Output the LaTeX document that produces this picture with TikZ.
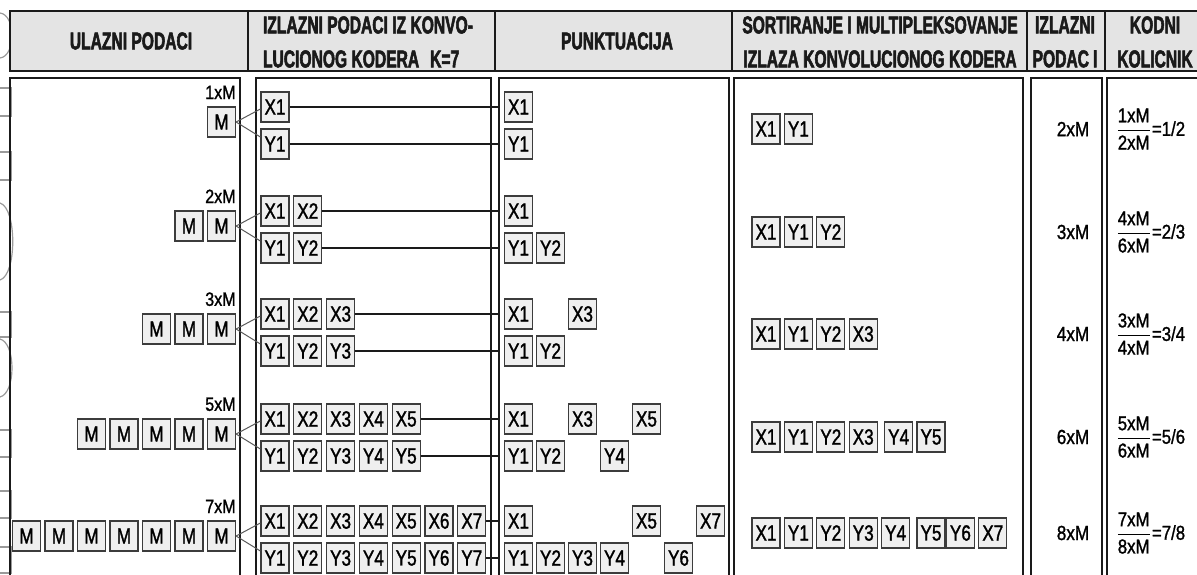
\documentclass[tikz,border=0pt]{standalone}
\usepackage{fontspec}
\usepackage{amsmath}
\usetikzlibrary{positioning,calc}
\definecolor{ink}{HTML}{1A1A1A}
\definecolor{headbg}{HTML}{E4E4E4}
\definecolor{cellbg}{HTML}{EFEFEF}
\definecolor{cellline}{HTML}{3C3C3C}
\definecolor{feedgray}{HTML}{5A5A5A}
\definecolor{scangray}{HTML}{9A9A9A}
\newfontfamily\headfont[FakeStretch=0.64,FakeBold=2.2]{Liberation Sans}
\newfontfamily\cellfont[FakeStretch=0.78,FakeBold=1.4]{Liberation Sans}
\newfontfamily\qtyfont[FakeStretch=0.84,FakeBold=1.2]{Liberation Sans}
\tikzset{
  headtext/.style={font=\headfont\bfseries\fontsize{12.2}{17}\selectfont,
                   text=ink,align=center,inner sep=0pt},
  panel/.style={draw=ink,line width=0.75pt},
  cell/.style={draw=cellline,fill=cellbg,line width=0.6pt,
               minimum width=14pt,minimum height=15pt,inner sep=0pt,
               font=\cellfont\fontsize{11}{12}\selectfont},
  qty/.style={font=\qtyfont\fontsize{9.6}{10}\selectfont,inner sep=0pt},
  total/.style={font=\qtyfont\fontsize{10.2}{11}\selectfont,inner sep=0pt},
  ratio/.style={font=\qtyfont\fontsize{10}{11}\selectfont,anchor=west,inner sep=0pt},
  feed/.style={draw=feedgray,line width=0.5pt},
  tap/.style={draw=ink,line width=0.6pt},
  scan/.style={draw=scangray,line width=0.6pt}
}

\begin{document}
\begin{tikzpicture}[x=0.5pt,y=-0.5pt]
    \useasboundingbox (0,0) rectangle (1197,574);
    \clip (0,0) rectangle (1197,574);

    % remains of the scanned page at the left edge
    \draw[scan] (0,13) .. controls (16,15) and (16,56) .. (0,58);
    \draw[scan] (0,203) .. controls (17,208) and (17,275) .. (0,280);
    \draw[scan] (0,339) .. controls (16,343) and (16,393) .. (0,397);
    \foreach \ya/\yb in {88/116,152/180,312/337,430/457,491/518,547/573}
      \draw[scan] (0,\ya) -| (11,\yb) -- (0,\yb);

    % header
    \draw[panel,fill=headbg] (10,11) rectangle (1210,71);
    \foreach \x in {248,495,732,1027,1105}
      \draw[panel] (\x,11) -- (\x,71);
    \node[headtext] (h1) at (131,41) {ULAZNI PODACI};
    \node[headtext,align=left] (h2) at (368,42)
      {IZLAZNI PODACI IZ KONVO-\\LUCIONOG KODERA\hspace{5.5pt}K=7};
    \node[headtext] (h3) at (617,41) {PUNKTUACIJA};
    \node[headtext] (h4) at (880,42)
      {SORTIRANJE I MULTIPLEKSOVANJE\\IZLAZA KONVOLUCIONOG KODERA};
    \node[headtext] (h5) at (1065,42) {IZLAZNI\\PODAC\,I};
    \node[headtext] (h6) at (1155,42) {KODNI\\KOLICNIK};

    % column panels, open at the bottom
    \foreach \xa/\xb in {10/240,256/491,499/729,734/1023,1031/1102,1107/1210}
      \draw[panel] (\xa,600) |- (\xb,78) -- (\xb,600);
    \coordinate (punkt) at (499,78);

    % input words and encoder outputs
    \foreach \row/\ym/\num in {1/122/1,2/226/2,3/329/3,4/434/5,5/536/7}{
      \foreach \k in {1,...,\num}{
        \node[cell] (m\row-\k) at ({221.5-32.5*(\num-\k)},\ym) {M};
        \node[cell] (x\row-\k) at ({275+32.8*(\k-1)},\ym-15) {X\k};
        \node[cell] (y\row-\k) at ({275+32.8*(\k-1)},\ym+22) {Y\k};
      }
      \node[qty,above=3.5pt of m\row-\num.north east,anchor=south east]
        (q\row) {\num xM};
      \draw[feed] (m\row-\num.east) -- ([yshift=-1pt]x\row-1.west);
      \draw[feed] (m\row-\num.east) -- ([yshift=3.5pt]y\row-1.west);
      \draw[tap] (x\row-\num.east) -- (x\row-\num.east -| punkt);
      \draw[tap] (y\row-\num.east) -- (y\row-\num.east -| punkt);
    }

    % punctured outputs
    \foreach \row/\ym/\xs/\ys in {1/122/{1}/{1},2/226/{1}/{1,2},3/329/{1,3}/{1,2},
                                  4/434/{1,3,5}/{1,2,4},5/536/{1,5,7}/{1,2,3,4,6}}{
      \foreach \k in \xs
        \node[cell] (px\row-\k) at ({518.5+32*(\k-1)},\ym-15) {X\k};
      \foreach \k in \ys
        \node[cell] (py\row-\k) at ({518.5+32*(\k-1)},\ym+22) {Y\k};
    }

    % sorted and multiplexed outputs
    \foreach \lab [count=\k] in {X1,Y1}
      \node[cell] (s1-\k) at ({766+32.4*(\k-1)},129) {\lab};
    \foreach \lab [count=\k] in {X1,Y1,Y2}
      \node[cell] (s2-\k) at ({766+32.4*(\k-1)},232) {\lab};
    \foreach \lab [count=\k] in {X1,Y1,Y2,X3}
      \node[cell] (s3-\k) at ({766+32.4*(\k-1)},334) {\lab};
    \foreach \lab [count=\k] in {X1,Y1,Y2,X3,Y4,Y5}
      \node[cell] (s4-\k) at ({766+32.4*(\k-1)+3*(\k>4)},437) {\lab};
    \foreach \lab [count=\k] in {X1,Y1,Y2,Y3,Y4,Y5,Y6,X7}
      \node[cell] (s5-\k) at ({766+32.4*(\k-1)+3*(\k==6)},533) {\lab};

    % output size and code rate
    \foreach \row/\ys/\tot/\nu/\de/\rt in {1/129/2/1/2/1\slash 2,2/232/3/4/6/2\slash 3,
                                           3/334/4/3/4/3\slash 4,4/437/6/5/6/5\slash 6,
                                           5/533/8/7/8/7\slash 8}{
      \node[total] (t\row) at (1073,\ys) {\tot xM};
      \node[ratio] (k\row) at (1115,\ys)
        {$\dfrac{\hbox{\nu xM}}{\hbox{\de xM}}$=\rt};
    }
  \end{tikzpicture}
\end{document}
